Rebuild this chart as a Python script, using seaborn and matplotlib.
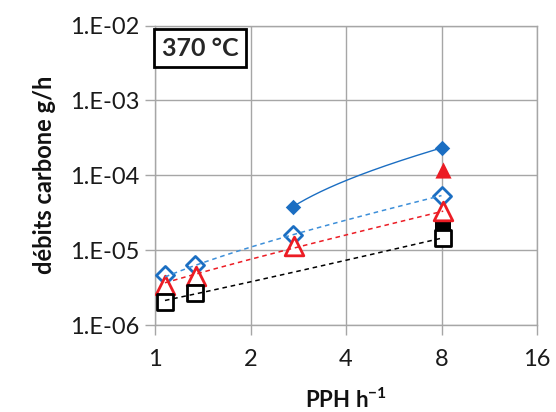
import numpy as np
import pandas as pd
import matplotlib
matplotlib.use("Agg")
import matplotlib.pyplot as plt
import seaborn as sns

# ---- data ----
x_ref = [2.72, 8.0]                       # filled blue diamonds
y_blue_full = [3.8e-5, 2.32e-4]
x_red_full = [8.1]
y_red_full = [1.17e-4]
x_blk_full = [8.1]
y_blk_full = [2.2e-5]

x_blue_open = [1.075, 1.337, 2.72, 8.0]
y_blue_open = [4.6e-6, 6.3e-6, 1.57e-5, 5.36e-5]
x_red_open = [1.075, 1.35, 2.74, 8.1]
y_red_open = [3.4e-6, 4.5e-6, 1.14e-5, 3.3e-5]
x_blk_open = [1.075, 1.34, 8.1]
y_blk_open = [2.03e-6, 2.7e-6, 1.46e-5]

x_ticks = [1, 2, 4, 8, 16]
y_ticks = [1e-6, 1e-5, 1e-4, 1e-3, 1e-2]
y_ticklabels = ["1.E-06", "1.E-05", "1.E-04", "1.E-03", "1.E-02"]

BLUE = "#1b6ec2"
BLUE_L = "#3d8fd9"
RED = "#ec1c24"
BLACK = "#000000"

sns.set_theme(style="white")
plt.rcParams['font.family'] = ['Lato', 'DejaVu Sans']
plt.rcParams['mathtext.fontset'] = 'custom'
plt.rcParams['mathtext.rm'] = 'Lato'
plt.rcParams['mathtext.bf'] = 'Lato:bold'

fig = plt.figure(figsize=(5.56, 4.12), dpi=100)
ax = fig.add_axes([155/556, 1-325/412, (537-155)/556, (325-25.5)/412])


def trend(xs, ys, color, ls, lw):
    c = np.polyfit(xs, ys, 1)
    xx = np.linspace(min(xs), max(xs), 200)
    df = pd.DataFrame({"x": xx, "y": np.polyval(c, xx)})
    sns.lineplot(data=df, x="x", y="y", ax=ax, color=color, linestyle=ls,
                 linewidth=lw, zorder=5, estimator=None, sort=False)


trend(x_ref, y_blue_full, BLUE, "-", 1.0)
trend(x_blue_open, y_blue_open, BLUE_L, (0, (3, 2.5)), 1.1)
trend(x_red_open, y_red_open, RED, (0, (3, 2.5)), 1.1)
trend(x_blk_open, y_blk_open, BLACK, (0, (3, 2.5)), 1.1)

sns.scatterplot(x=x_blue_open, y=y_blue_open, ax=ax, marker="D", s=85,
                facecolor="white", edgecolor=BLUE, linewidth=2, zorder=4)
sns.scatterplot(x=x_red_open, y=y_red_open, ax=ax, marker="^", s=180,
                facecolor="white", edgecolor=RED, linewidth=2, zorder=4)
sns.scatterplot(x=x_blk_open, y=y_blk_open, ax=ax, marker="s", s=130,
                facecolor="white", edgecolor=BLACK, linewidth=2, zorder=4)
sns.scatterplot(x=x_blk_full, y=y_blk_full, ax=ax, marker="s", s=140,
                color=BLACK, edgecolor=BLACK, linewidth=0, zorder=3)
sns.scatterplot(x=x_red_full, y=y_red_full, ax=ax, marker="^", s=135,
                color=RED, edgecolor=RED, linewidth=0, zorder=6)
sns.scatterplot(x=x_ref, y=y_blue_full, ax=ax, marker="D", s=62,
                color=BLUE, edgecolor=BLUE, linewidth=0, zorder=6)

ax.set_xscale("log", base=2)
ax.set_yscale("log")
ax.set_xlim(1, 16)
ax.set_ylim(1e-6, 1e-2)
ax.set_xticks(x_ticks)
ax.set_xticklabels([str(v) for v in x_ticks])
ax.set_yticks(y_ticks)
ax.set_yticklabels(y_ticklabels)
ax.minorticks_off()
ax.grid(True, which="major", color="#a6a6a6", linewidth=1.0)
for s in ax.spines.values():
    s.set_color("#a6a6a6")
    s.set_linewidth(1.0)
ax.tick_params(axis="both", which="major", length=7, width=1.0,
               color="#a6a6a6", labelsize=17, labelcolor="#1a1a1a", pad=4,
               direction="out", bottom=True, left=True)
ax.tick_params(axis="x", pad=10)

ax.set_xlabel(r"PPH h$^{\mathbf{-1}}$", fontsize=16, fontweight="bold",
              color="#111111", labelpad=13)
ax.set_ylabel("débits carbone g/h", fontsize=17, fontweight="bold",
              color="#111111", labelpad=10)

ax.text(0.018, 0.963, "370 °C", transform=ax.transAxes, fontsize=18,
        fontweight="bold", va="top", ha="left", zorder=10,
        bbox=dict(boxstyle="square,pad=0.3", facecolor="white",
                  edgecolor="black", linewidth=2))

fig.savefig("out.png", dpi=100)
